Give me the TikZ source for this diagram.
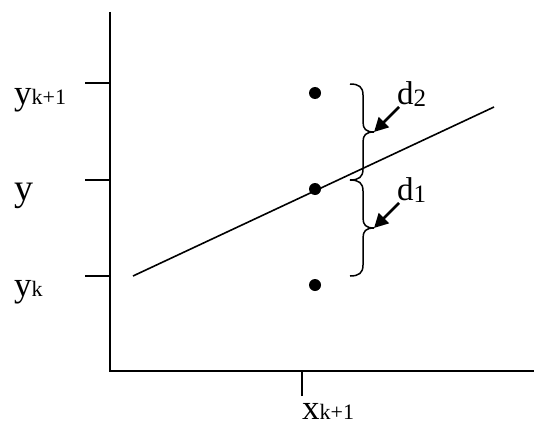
\documentclass[tikz,border=0pt]{standalone}
\usepackage{fontspec}
\setmainfont{Liberation Serif}
\usetikzlibrary{arrows.meta}
\newcommand{\bigf}{\fontsize{35}{36}\selectfont}
\newcommand{\hugef}{\fontsize{38}{40}\selectfont}
\newcommand{\subf}{\fontsize{22}{22}\selectfont}
\newcommand{\df}{\fontsize{33}{34}\selectfont}
\newcommand{\dsubf}{\fontsize{25}{26}\selectfont}
\begin{document}
\begin{tikzpicture}[x=1pt,y=-1pt,
  axis/.style={line width=2pt},
  tickmark/.style={line width=2pt},
  dot/.style={circle,fill=black,draw=none,inner sep=0pt,minimum size=12pt},
  bracestyle/.style={line width=1.5pt},
  pointer/.style={line width=2.8pt,-{Triangle[length=14pt,width=14pt]}},
  lbl/.style={inner sep=0pt,anchor=base west}]
\useasboundingbox (0,0) rectangle (534,425);
% axes
\coordinate (o) at (110,371);
\coordinate (ytop) at (110,12);
\coordinate (xend) at (534,371);
\draw[axis] (ytop) -- (o) -- (xend);
% ticks
\coordinate (ty1) at (85,83);
\coordinate (ty2) at (85,180);
\coordinate (ty3) at (85,276);
\coordinate (tx) at (302,396);
\draw[tickmark] (ty1) -- (ty1 -| o);
\draw[tickmark] (ty2) -- (ty2 -| o);
\draw[tickmark] (ty3) -- (ty3 -| o);
\draw[tickmark] (tx) -- (tx |- o);
% labels
\node[lbl] (lyk1) at (14,104) {\bigf y\subf k+1};
\node[lbl] (ly) at (14,200) {\hugef y};
\node[lbl] (lyk) at (14,296) {\bigf y\subf k};
\node[lbl] (lx) at (302,419) {\bigf x\subf k+1};
% line
\coordinate (l1) at (133,276);
\coordinate (l2) at (494,107);
\draw[line width=1.6pt] (l1) -- (l2);
% dots
\node[dot] (p1) at (315,93) {};
\node[dot] (p2) at (315,189) {};
\node[dot] (p3) at (315,285) {};
% braces
\coordinate (b1) at (350,84);
\coordinate (b2) at (350,180);
\coordinate (b3) at (350,276);
\coordinate (t2) at (374,132);
\coordinate (t1) at (374,228);
\draw[bracestyle] (b1) .. controls (359,84) and (363,87) .. (363,95)
  -- (363,122) .. controls (363,129) and (366,132) .. (t2)
  .. controls (366,132) and (363,135) .. (363,142)
  -- (363,169) .. controls (363,177) and (359,180) .. (b2);
\draw[bracestyle] (b2) .. controls (359,180) and (363,183) .. (363,191)
  -- (363,218) .. controls (363,225) and (366,228) .. (t1)
  .. controls (366,228) and (363,231) .. (363,238)
  -- (363,265) .. controls (363,273) and (359,276) .. (b3);
% d labels and pointers
\node[lbl] (d2) at (397,104) {\df d\raisebox{-2pt}{\dsubf 2}};
\node[lbl] (d1) at (397,200) {\df d\raisebox{-2pt}{\dsubf 1}};
\coordinate (s2) at (399,107);
\coordinate (s1) at (399,203);
\draw[pointer] (s2) -- (t2);
\draw[pointer] (s1) -- (t1);
\end{tikzpicture}
\end{document}
